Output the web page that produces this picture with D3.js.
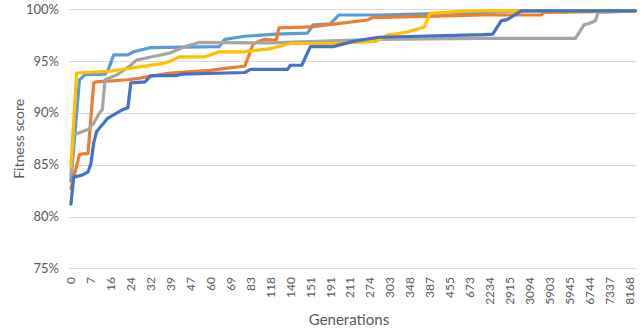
<!DOCTYPE html>
<html><head><meta charset="utf-8">
<script src="https://cdn.jsdelivr.net/npm/d3@7"></script>
<style>
html,body{margin:0;padding:0;background:#fff;}
svg{display:block;font-family:Lato,"Open Sans",sans-serif;}
</style></head>
<body><svg id="chart" width="644" height="334"></svg>
<script>
// ---- data ----
const categoryCount = 199;          // number of generation categories on the axis
const labelStep = 7;                // every 7th category is labelled
const tickLabels = ["0","7","16","24","32","39","47","60","69","83","118","140","151","191","211","274","303","348","387","455","673","2234","2915","3094","5903","5945","6744","7337","8168"];
const yTicks = [75, 80, 85, 90, 95, 100];

// [category index, fitness %] at each change of the line
const lightBlue = [[0,83.4],[3,93.2],[5,93.7],[12,93.75],[13,94.1],[15,95.6],[20,95.6],[22,95.9],[28,96.3],[52,96.4],[54,97.1],[61,97.4],[72,97.6],[83,97.7],[85,98.5],[91,98.6],[94,99.45],[108,99.45],[145,99.7],[158,99.85],[198,99.85]];
const orange = [[0,82.7],[3,86.0],[6,86.1],[8,92.9],[9,93.0],[20,93.2],[23,93.3],[28,93.55],[35,93.85],[49,94.1],[54,94.3],[61,94.5],[64,96.7],[68,97.1],[72,97.0],[73,98.2],[84,98.3],[93,98.6],[104,98.97],[106,99.2],[145,99.45],[165,99.45],[166,99.7],[192,99.8],[198,99.85]];
const gray = [[0,84.0],[1,87.9],[6,88.4],[8,89.0],[10,90.0],[11,90.3],[12,93.2],[16,93.65],[21,94.6],[23,95.1],[28,95.4],[35,95.8],[40,96.4],[45,96.8],[70,96.75],[108,97.1],[144,97.2],[177,97.2],[180,98.5],[182,98.65],[184,98.9],[185,99.7],[198,99.85]];
const yellow = [[0,84.8],[2,93.85],[13,94.0],[32,94.75],[35,95.0],[38,95.4],[47,95.4],[52,95.9],[61,95.9],[70,96.2],[77,96.7],[92,96.7],[107,96.9],[111,97.5],[118,97.8],[124,98.3],[126,99.6],[137,99.8],[145,99.85],[198,99.85]];
const darkBlue = [[0,81.2],[1,83.8],[4,84.0],[6,84.3],[7,85.1],[8,87.1],[9,88.2],[13,89.5],[18,90.3],[20,90.5],[21,92.9],[26,93.0],[28,93.6],[37,93.6],[39,93.75],[61,93.9],[63,94.2],[76,94.2],[77,94.6],[81,94.6],[84,96.4],[92,96.4],[99,96.9],[108,97.3],[145,97.55],[148,97.6],[151,98.9],[153,99.0],[158,99.85],[198,99.85]];

const seriesList = [lightBlue, orange, gray, yellow, darkBlue];
const seriesColors = ["#5B9BD5", "#ED7D31", "#A5A5A5", "#FFC000", "#4472C4"];

// ---- layout ----
const svg = d3.select("#chart");
const plotLeft = 69.5, plotRight = 636.7, plotTop = 9.3, plotBottom = 268.3;
const x = d3.scaleLinear().domain([-0.5, categoryCount - 0.5]).range([plotLeft, plotRight]);
const y = d3.scaleLinear().domain([75, 100]).range([plotBottom, plotTop]);
const textColor = "#595959";

// gridlines
svg.append("g").selectAll("line").data(yTicks).join("line")
  .attr("x1", plotLeft).attr("x2", plotRight)
  .attr("y1", d => Math.round(y(d)) + 0.5).attr("y2", d => Math.round(y(d)) + 0.5)
  .attr("stroke", "#D9D9D9").attr("stroke-width", 1);

// y tick labels
svg.append("g").selectAll("text").data(yTicks).join("text")
  .attr("x", 59).attr("y", d => y(d)).attr("dy", "0.35em")
  .attr("text-anchor", "end").attr("fill", textColor).attr("font-size", 13)
  .text(d => d + "%");

// x tick labels
svg.append("g").selectAll("text").data(tickLabels).join("text")
  .attr("transform", (d, i) => `translate(${x(i * labelStep)},277) rotate(-90)`)
  .attr("dy", "0.35em").attr("text-anchor", "end")
  .attr("fill", textColor).attr("font-size", 12)
  .text(d => d);

// series lines
const line = d3.line().x(d => x(d[0])).y(d => y(d[1]));
svg.append("g").selectAll("path").data(seriesList).join("path")
  .attr("d", line).attr("fill", "none")
  .attr("stroke", (d, i) => seriesColors[i])
  .attr("stroke-width", 3.2).attr("stroke-linejoin", "round").attr("stroke-linecap", "round");

// axis titles
svg.append("text").attr("transform", `translate(19,${(plotTop + plotBottom) / 2}) rotate(-90)`)
  .attr("dy", "0.35em").attr("text-anchor", "middle").attr("fill", textColor).attr("font-size", 14)
  .text("Fitness score");
svg.append("text").attr("x", 349).attr("y", 325).attr("text-anchor", "middle")
  .attr("fill", textColor).attr("font-size", 15).text("Generations");
</script></body></html>
